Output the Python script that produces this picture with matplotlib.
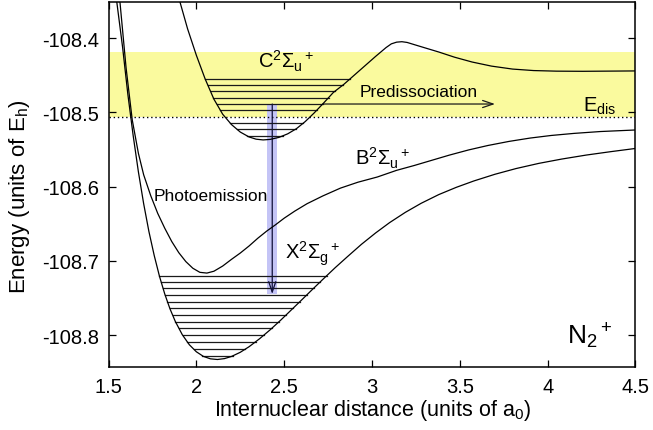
import numpy as np
import matplotlib
matplotlib.use("Agg")
import matplotlib.pyplot as plt
from matplotlib.patches import Rectangle

plt.rcParams["font.family"] = ["Liberation Sans", "DejaVu Sans"]
plt.rcParams["mathtext.fontset"] = "custom"
plt.rcParams["mathtext.rm"] = "Liberation Sans"
plt.rcParams["mathtext.it"] = "Liberation Sans:italic"
plt.rcParams["mathtext.bf"] = "Liberation Sans:bold"

# Potential energy curves of N2+ (internuclear distance in a0, energy in Eh)
x_r = [1.547, 1.58, 1.61, 1.64, 1.67, 1.70, 1.73, 1.76, 1.79, 1.82, 1.85, 1.88,
       1.92, 1.96, 2.00, 2.04, 2.08, 2.12, 2.16, 2.20, 2.25, 2.30, 2.36, 2.42,
       2.48, 2.54, 2.60, 2.66, 2.72, 2.79, 2.86, 2.94, 3.02, 3.10, 3.19, 3.28,
       3.38, 3.48, 3.58, 3.70, 3.82, 3.95, 4.08, 4.22, 4.36, 4.50]
x_e = [-108.351, -108.412, -108.4755, -108.5307, -108.580, -108.623, -108.6606,
       -108.6927, -108.7208, -108.7446, -108.7648, -108.7816, -108.7996,
       -108.8131, -108.8226, -108.8288, -108.8321, -108.833, -108.8318,
       -108.8289, -108.8233, -108.8158, -108.805, -108.793, -108.780,
       -108.7663, -108.7526, -108.7387, -108.725, -108.7093, -108.6944,
       -108.6777, -108.6625, -108.6485, -108.6346, -108.6224, -108.6107,
       -108.6009, -108.5923, -108.5833, -108.5756, -108.5686, -108.5628,
       -108.5574, -108.5528, -108.5485]

b_r = [1.565, 1.60, 1.635, 1.67, 1.70, 1.74, 1.78, 1.82, 1.86, 1.90, 1.94, 1.98,
       2.02, 2.06, 2.10, 2.15, 2.20, 2.25, 2.30, 2.35, 2.40, 2.45, 2.50, 2.56,
       2.63, 2.72, 2.82, 2.92, 3.03, 3.14, 3.24, 3.34, 3.44, 3.55, 3.66, 3.78,
       3.90, 4.02, 4.15, 4.30, 4.50]
b_e = [-108.351, -108.44, -108.51, -108.555, -108.584, -108.612, -108.636,
       -108.656, -108.674, -108.689, -108.701, -108.710, -108.7155, -108.7165,
       -108.714, -108.707, -108.698, -108.6895, -108.680, -108.6695, -108.660,
       -108.6515, -108.6425, -108.633, -108.623, -108.6125, -108.602, -108.594,
       -108.587, -108.578, -108.5715, -108.5645, -108.5575, -108.5505,
       -108.5445, -108.539, -108.5345, -108.531, -108.5282, -108.5257,
       -108.5236]

c_r = [1.907, 1.95, 2.00, 2.05, 2.10, 2.15, 2.20, 2.25, 2.30, 2.34, 2.38, 2.42,
       2.47, 2.52, 2.57, 2.62, 2.67, 2.72, 2.78, 2.84, 2.90, 2.96, 3.02, 3.08,
       3.11, 3.14, 3.17, 3.20, 3.24, 3.30, 3.38, 3.47, 3.57, 3.68, 3.80, 3.92,
       4.05, 4.20, 4.50]
c_e = [-108.3513, -108.3872, -108.4229, -108.4548, -108.4821, -108.5024,
       -108.5163, -108.5264, -108.533, -108.536, -108.537, -108.5363,
       -108.5336, -108.5288, -108.5218, -108.5122, -108.5008, -108.4884,
       -108.473, -108.462, -108.4495, -108.437, -108.4245, -108.4125,
       -108.4075, -108.4052, -108.4046, -108.4056, -108.4085, -108.4128,
       -108.4185, -108.4255, -108.432, -108.4375, -108.4415, -108.4435,
       -108.4443, -108.4445, -108.4440]

# vibrational levels
x_levels = [-108.720, -108.729, -108.737, -108.746, -108.755, -108.764, -108.773,
            -108.782, -108.791, -108.800, -108.809, -108.8189, -108.8279]
c_levels = [-108.4549, -108.463, -108.4715, -108.4801, -108.4886, -108.4971,
            -108.5146, -108.5223, -108.5313]

e_dis = -108.5062
band_top = -108.419

pred_level = -108.4886
pred_end = 3.70
emis_r = 2.432
emis_bottom = -108.7447
emis_halfwidth = 0.028

fig = plt.figure(figsize=(6.53, 4.31), dpi=100)
ax = fig.add_axes([0.1662, 0.1462, 0.9732 - 0.1662, 0.993 - 0.1462])

ax.set_xlim(1.5, 4.5)
ax.set_ylim(-108.8431, -108.3511)

# dissociative band above E_dis
ax.axhspan(e_dis, band_top, color="#fafa9e", lw=0, zorder=0)
ax.axhline(e_dis, color="black", lw=1.0, ls=(0, (1, 2)), zorder=3)


def branch_ends(r, e, level):
    r = np.asarray(r)
    e = np.asarray(e)
    i = int(np.argmin(e))
    left = np.interp(level, e[:i + 1][::-1], r[:i + 1][::-1])
    right_r = r[i:]
    right_e = e[i:]
    # rising part of the right branch only
    j = int(np.argmax(right_e)) + 1 if right_e.max() > level else len(right_e)
    right = np.interp(level, right_e[:j], right_r[:j])
    return left, right


for lv in x_levels:
    l, r = branch_ends(x_r, x_e, lv)
    ax.plot([l, r], [lv, lv], color="#1a1a1a", lw=0.9, zorder=2)
for lv in c_levels:
    l, r = branch_ends(c_r, c_e, lv)
    ax.plot([l, r], [lv, lv], color="#1a1a1a", lw=0.9, zorder=2)

# photoemission band and arrow
ax.add_patch(Rectangle((emis_r - emis_halfwidth, emis_bottom), 2 * emis_halfwidth,
                       pred_level - emis_bottom, facecolor="#c4c4f6",
                       edgecolor="none", zorder=1))
ax.annotate("", xy=(emis_r, emis_bottom), xytext=(emis_r, pred_level),
            arrowprops=dict(arrowstyle="->,head_length=0.5,head_width=0.17",
                            color="#10103a", lw=0.9, mutation_scale=15,
                            shrinkA=0, shrinkB=0), zorder=4)

# predissociation arrow along one C level
_, pl_right = branch_ends(c_r, c_e, pred_level)
ax.annotate("", xy=(pred_end, pred_level), xytext=(pl_right, pred_level),
            arrowprops=dict(arrowstyle="->,head_length=0.5,head_width=0.17",
                            color="#1a1a1a", lw=0.9, mutation_scale=15,
                            shrinkA=0, shrinkB=0), zorder=4)

for r, e in ((x_r, x_e), (b_r, b_e), (c_r, c_e)):
    ax.plot(r, e, color="black", lw=0.9, zorder=5)

ts = 14.5
ax.text(2.352, -108.4391, r"$\mathrm{C}^2\Sigma_\mathrm{u}{}^+$", fontsize=ts)
ax.text(2.903, -108.5695, r"$\mathrm{B}^2\Sigma_\mathrm{u}{}^+$", fontsize=ts)
ax.text(2.505, -108.6975, r"$\mathrm{X}^2\Sigma_\mathrm{g}{}^+$", fontsize=ts)
ax.text(1.755, -108.618, "Photoemission", fontsize=12.5)
ax.text(2.927, -108.4774, "Predissociation", fontsize=12.5)
ax.text(4.202, -108.4976, r"$\mathrm{E}_\mathrm{dis}$", fontsize=ts)
ax.text(4.108, -108.8108, r"$\mathrm{N}_2{}^+$", fontsize=19)

ax.set_xticks([1.5, 2, 2.5, 3, 3.5, 4, 4.5])
ax.set_xticklabels(["1.5", "2", "2.5", "3", "3.5", "4", "4.5"])
ax.set_yticks([-108.8, -108.7, -108.6, -108.5, -108.4])
ax.set_yticklabels(["-108.8", "-108.7", "-108.6", "-108.5", "-108.4"])
ax.tick_params(direction="in", length=5, width=0.9, top=True, right=True,
               labelsize=14.5, pad=7)
for s in ax.spines.values():
    s.set_linewidth(1.1)

ax.set_xlabel(r"Internuclear distance (units of a$_0$)", fontsize=15.5, labelpad=1)
ax.set_ylabel(r"Energy (units of E$_\mathrm{h}$)", fontsize=16)
ax.yaxis.set_label_coords(-0.145, 0.47)

fig.savefig("out.png", dpi=100)
